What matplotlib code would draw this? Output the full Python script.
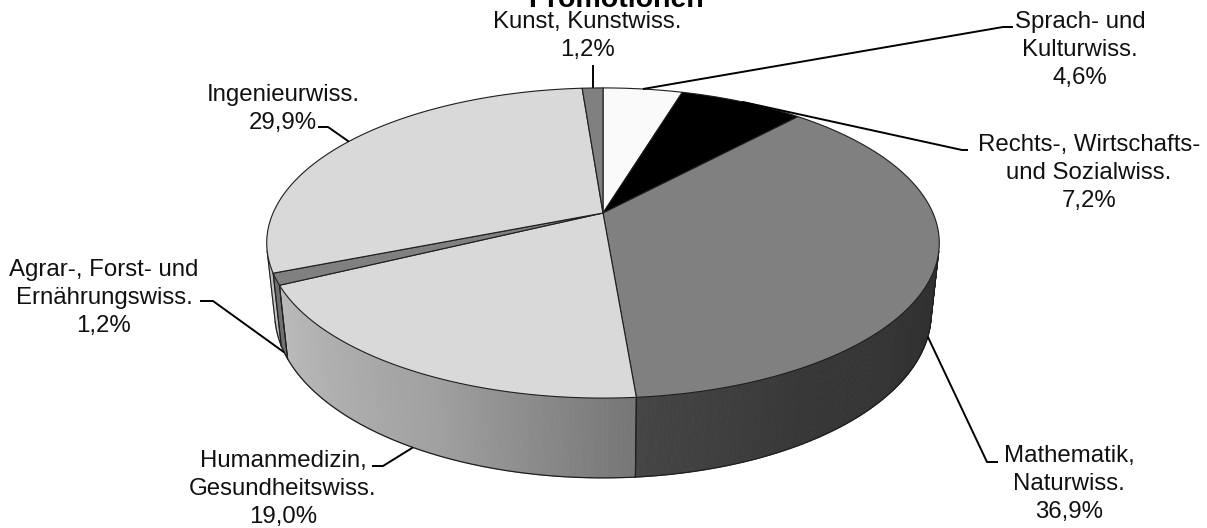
import numpy as np
import matplotlib
matplotlib.use("Agg")
import matplotlib.pyplot as plt
from matplotlib.patches import Polygon
from matplotlib.colors import to_rgb

# ---- data -------------------------------------------------------------
title = "Promotionen"
categories = [
    "Sprach- und\nKulturwiss.",
    "Rechts-, Wirtschafts-\nund Sozialwiss.",
    "Mathematik,\nNaturwiss.",
    "Humanmedizin,\nGesundheitswiss.",
    "Agrar-, Forst- und\nErnährungswiss.",
    "Ingenieurwiss.",
    "Kunst, Kunstwiss.",
]
shares = [4.6, 7.2, 36.9, 19.0, 1.2, 29.9, 1.2]
top_colors = ["#fafafa", "#000000", "#808080", "#d9d9d9",
              "#808080", "#d9d9d9", "#808080"]

# ---- layout -----------------------------------------------------------
W, H = 1207, 528
CX, CY = 603, 213            # pie centre on screen (px)
FOCAL = 1521.0               # projection scale
DIST = 4.61                  # camera distance (pie radius = 1)
PHI = np.radians(26.9)       # camera elevation
THICK = 0.24                 # pie height (radius units)

label_xy = [(1080, 50), (1089, 173), (1069, 484), (283, 489),
            (104, 298), (283, 109), (587, 36)]
label_elbow = [(1003, 27), (962, 150), (987, 462), (383, 466),
               (213, 301), (328, 127), None]
label_end = [(1013, 27), (968, 150), (998, 462), (372, 466),
             (200, 301), (318, 127), None]
FONT = "Liberation Sans"
FS = 17.3
EDGE = "#1e1e1e"


def project(theta_deg, z=0.0):
    """Perspective projection of a point on the pie rim (theta clockwise from back)."""
    t = np.radians(theta_deg)
    x, y = np.sin(t), np.cos(t)
    depth = DIST + y * np.cos(PHI) - z * np.sin(PHI)
    up = y * np.sin(PHI) + z * np.cos(PHI)
    return CX + FOCAL * x / depth, CY - FOCAL * up / depth


def side_shade(theta):
    return np.interp(theta, [104, 150, 175, 205, 256],
                     [0.37, 0.43, 0.54, 0.74, 0.90])


fig = plt.figure(figsize=(W / 100, H / 100), dpi=100)
ax = fig.add_axes([0, 0, 1, 1])
ax.set_xlim(0, W)
ax.set_ylim(H, 0)
ax.axis("off")

total = float(sum(shares))
bounds = np.concatenate([[0.0], np.cumsum(shares)]) / total * 360.0

# visible range of the cylinder wall
vis_lo = np.degrees(np.arccos(-1.0 / (DIST * np.cos(PHI))))
vis_hi = 360.0 - vis_lo

# ---- side walls -------------------------------------------------------
for i, col in enumerate(top_colors):
    a0, a1 = bounds[i], bounds[i + 1]
    s0, s1 = max(a0, vis_lo), min(a1, vis_hi)
    if s0 >= s1:
        continue
    base = np.array(to_rgb(col))
    n = max(2, int(np.ceil((s1 - s0) / 0.4)))
    ts = np.linspace(s0, s1, n + 1)
    for u, v in zip(ts[:-1], ts[1:]):
        xu, yu = project(u)
        xv, yv = project(v)
        xbu, ybu = project(u, -THICK)
        xbv, ybv = project(v, -THICK)
        c = np.clip(base * side_shade(0.5 * (u + v)), 0, 1)
        ax.add_patch(Polygon([(xu, yu), (xv, yv), (xbv, ybv), (xbu, ybu)],
                             closed=True, facecolor=c, edgecolor=c,
                             linewidth=0.6, zorder=1))
    tt = np.linspace(s0, s1, 200)
    xb, yb = project(tt, -THICK)
    ax.plot(xb, yb, color=EDGE, lw=0.9, zorder=2)
    for a in (s0, s1):
        xa, ya = project(a)
        xab, yab = project(a, -THICK)
        ax.plot([xa, xab], [ya, yab], color=EDGE, lw=0.8, zorder=2)

# ---- top faces --------------------------------------------------------
for i, col in enumerate(top_colors):
    a0, a1 = bounds[i], bounds[i + 1]
    tt = np.linspace(a0, a1, max(3, int((a1 - a0) * 3)))
    xr, yr = project(tt)
    pts = [(CX, CY)] + list(zip(xr, yr))
    ax.add_patch(Polygon(pts, closed=True, facecolor=col, edgecolor=EDGE,
                         linewidth=0.8, joinstyle="round", zorder=3))

# ---- labels with leader lines -----------------------------------------
for i, name in enumerate(categories):
    a0, a1 = bounds[i], bounds[i + 1]
    mid = 0.5 * (a0 + a1)
    if vis_lo < mid < vis_hi:
        anchor = project(mid, -THICK)
    else:
        anchor = project(mid)
    pct = f"{shares[i]:.1f}".replace(".", ",") + "%"
    tx, ty = label_xy[i]
    ax.text(tx, ty, f"{name}\n{pct}", ha="center", va="center",
            multialignment="center", family=FONT, fontsize=FS,
            linespacing=1.38, color="#111111", zorder=5)
    if label_elbow[i] is None:
        xs = [anchor[0], anchor[0]]
        ys = [anchor[1], 65]
    else:
        xs = [anchor[0], label_elbow[i][0], label_end[i][0]]
        ys = [anchor[1], label_elbow[i][1], label_end[i][1]]
    ax.plot(xs, ys, color="black", lw=1.4, zorder=4,
            solid_capstyle="butt")

ax.text(616, 7, title, ha="center", va="baseline", family=FONT,
        fontsize=20.5, fontweight="bold", color="black", zorder=5)

fig.savefig("out.png", dpi=100, facecolor="white")
